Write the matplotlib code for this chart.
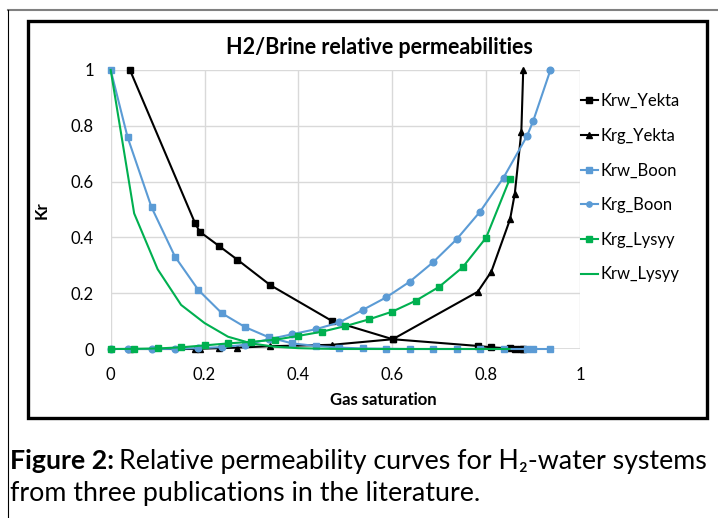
import numpy as np
import matplotlib
matplotlib.use('Agg')
import matplotlib.pyplot as plt
from matplotlib.patches import Rectangle
from matplotlib.lines import Line2D

# Yekta data
sg_yekta = [0.041, 0.18, 0.19, 0.231, 0.27, 0.34, 0.471, 0.601, 0.782, 0.811, 0.851, 0.861, 0.875, 0.879]
krw_yekta = [1.0, 0.45, 0.42, 0.369, 0.32, 0.229, 0.101, 0.035, 0.011, 0.006, 0.002, 0.001, 0.0, 0.0]
krg_yekta = [0.0, 0.0, 0.001, 0.003, 0.005, 0.01, 0.015, 0.035, 0.205, 0.277, 0.465, 0.556, 0.779, 1.0]

# Boon data
sg_boon = [0.0, 0.036, 0.087, 0.137, 0.187, 0.237, 0.287, 0.337, 0.387, 0.437, 0.487,
           0.537, 0.587, 0.637, 0.687, 0.737, 0.787, 0.837, 0.887, 0.9, 0.937]
krw_boon = [1.0, 0.759, 0.508, 0.331, 0.211, 0.128, 0.078, 0.042, 0.020, 0.011, 0.005,
            0.002, 0.001, 0.0, 0.0, 0.0, 0.0, 0.0, 0.0, 0.0, 0.0]
krg_boon = [0.0, 0.0, 0.0, 0.001, 0.003, 0.007, 0.015, 0.035, 0.053, 0.071, 0.095,
            0.14, 0.185, 0.241, 0.311, 0.393, 0.492, 0.614, 0.763, 0.816, 1.0]

# Lysyy data
sg_lysyy = [0.0, 0.05, 0.1, 0.15, 0.2, 0.25, 0.3, 0.35, 0.4, 0.45, 0.5, 0.55, 0.6,
            0.65, 0.7, 0.75, 0.8, 0.85]
krg_lysyy = [0.0, 0.0005, 0.002, 0.006, 0.013, 0.02, 0.026, 0.033, 0.047, 0.062, 0.082,
             0.106, 0.134, 0.173, 0.223, 0.293, 0.399, 0.608]
krw_lysyy = [1.0, 0.486, 0.286, 0.158, 0.093, 0.044, 0.020, 0.008, 0.003, 0.001, 0.0,
             0.0, 0.0, 0.0, 0.0, 0.0, 0.0, 0.0]

ticks = [0, 0.2, 0.4, 0.6, 0.8, 1]
tick_labels = ['0', '0.2', '0.4', '0.6', '0.8', '1']

BLACK = '#000000'
BLUE = '#5B9BD5'
GREEN = '#00B050'

plt.rcParams['font.family'] = ['Lato', 'DejaVu Sans']

W, H = 718, 518
fig = plt.figure(figsize=(W / 100, H / 100), dpi=100)

# page decorations
fig.add_artist(Line2D([8 / W, 1], [1 - 10 / H, 1 - 10 / H], transform=fig.transFigure,
                      color='#808080', lw=1.5))
fig.add_artist(Line2D([8 / W, 8 / W], [0, 1 - 10 / H], transform=fig.transFigure,
                      color='black', lw=0.8))
fig.add_artist(Rectangle((28 / W, 1 - 418 / H), (707 - 28) / W, (418 - 21) / H,
                         transform=fig.transFigure, fill=False, ec='black', lw=2.4))

ax = fig.add_axes([110.7 / W, 1 - 349 / H, (580 - 110.7) / W, (349 - 70) / H])
ax.set_xlim(0, 1)
ax.set_ylim(0, 1)
ax.set_xticks(ticks)
ax.set_xticklabels(tick_labels)
ax.set_yticks(ticks)
ax.set_yticklabels(tick_labels)
ax.tick_params(length=0, labelsize=12)
ax.tick_params(axis='y', pad=12)
ax.tick_params(axis='x', pad=13)
ax.grid(True, color='#D9D9D9', lw=1)
for s in ax.spines.values():
    s.set_visible(False)
ax.axhline(0, color='#D9D9D9', lw=1.2, zorder=0.5)

ax.plot(sg_yekta, krw_yekta, color=BLACK, lw=1.5, marker='s', ms=4.8, label='Krw_Yekta', clip_on=False)
ax.plot(sg_yekta, krg_yekta, color=BLACK, lw=1.5, marker='^', ms=4.8, label='Krg_Yekta', clip_on=False)
ax.plot(sg_boon, krw_boon, color=BLUE, lw=1.5, marker='s', ms=4.8, label='Krw_Boon', clip_on=False)
ax.plot(sg_boon, krg_boon, color=BLUE, lw=1.5, marker='o', ms=4.8, label='Krg_Boon', clip_on=False)
ax.plot(sg_lysyy, krg_lysyy, color=GREEN, lw=1.5, marker='s', ms=4.8, label='Krg_Lysyy', clip_on=False)
ax.plot(sg_lysyy, krw_lysyy, color=GREEN, lw=1.5, label='Krw_Lysyy', clip_on=False)

# chart title and axis titles (Excel centres them on the chart area)
fig.text(379 / W, 1 - 48 / H, 'H2/Brine relative permeabilities', fontsize=15.5,
         fontweight='bold', ha='center', va='center')
fig.text(383 / W, 1 - 400 / H, 'Gas saturation', fontsize=12, fontweight='bold',
         ha='center', va='center')
fig.text(42 / W, 1 - 210 / H, 'Kr', fontsize=12, fontweight='bold', rotation=90,
         ha='center', va='center')

ax.legend(loc='upper left', bbox_to_anchor=(581 / W, 1 - 93 / H), bbox_transform=fig.transFigure,
          frameon=False, fontsize=12, handlelength=1.0, handletextpad=0.15,
          labelspacing=1.12, borderpad=0, borderaxespad=0, markerscale=0.8)

# caption
fig.canvas.draw()
r = fig.canvas.get_renderer()
t1 = fig.text(10 / W, 1 - 461 / H, 'Figure 2:', fontsize=19.3, fontweight='bold', va='center')
bb = t1.get_window_extent(renderer=r)
fig.text((bb.x1 + 5) / W, 1 - 461 / H, 'Relative permeability curves for H\u2082-water systems',
         fontsize=19.3, va='center')
fig.text(10 / W, 1 - 494 / H, 'from three publications in the literature.', fontsize=19.3, va='center')

fig.savefig('out.png', dpi=100)
